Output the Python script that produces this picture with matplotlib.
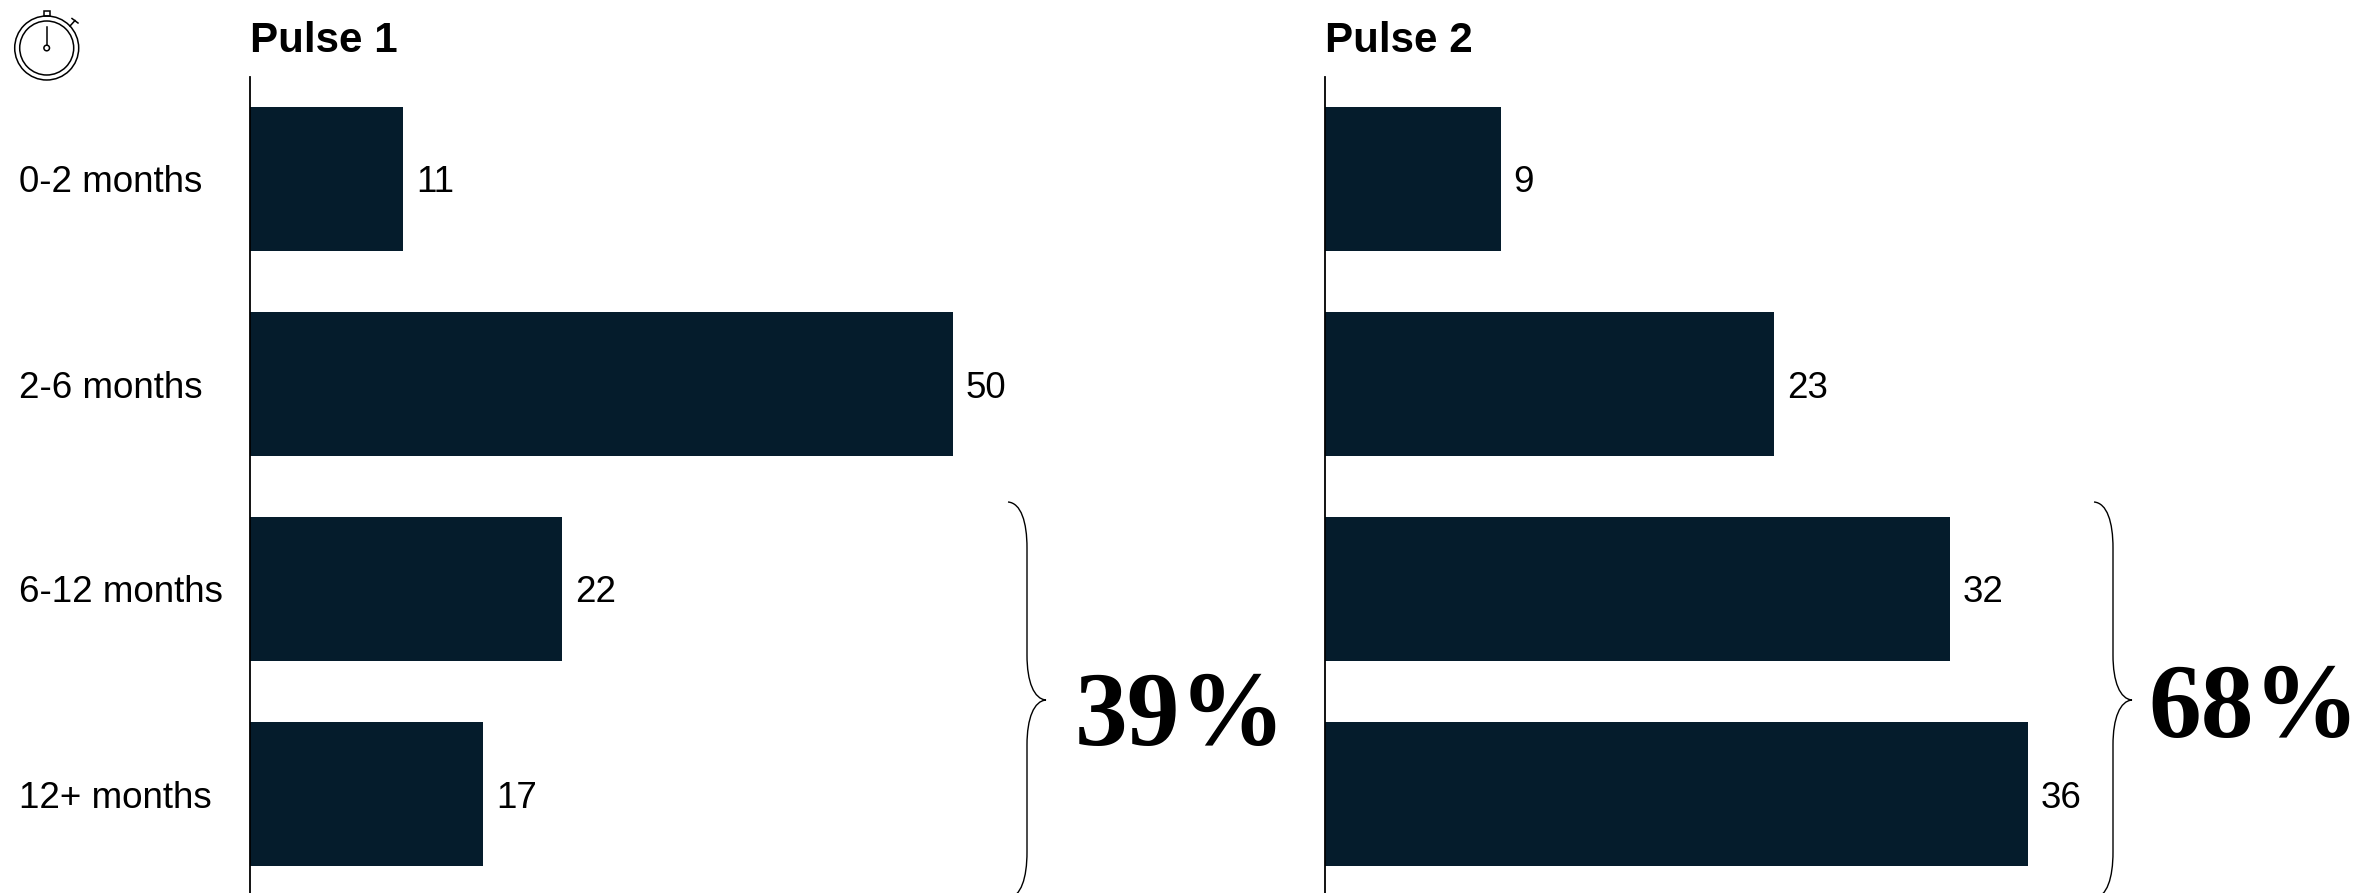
import matplotlib
matplotlib.use('Agg')
import matplotlib.pyplot as plt
from matplotlib.patches import Circle, PathPatch, Rectangle
from matplotlib.path import Path

plt.rcParams['font.family'] = ['Liberation Sans', 'DejaVu Sans']

categories = ['0-2 months', '2-6 months', '6-12 months', '12+ months']
pulse1 = [10.9, 50, 22.2, 16.6]
pulse2 = [9, 23, 32, 36]
titles = ['Pulse 1', 'Pulse 2']
totals = ['39%', '68%']

W, H = 2361, 893
NAVY = '#051c2c'

fig = plt.figure(figsize=(W / 100, H / 100), dpi=100, facecolor='white')


def add_panel(left, values, title, xmax):
    # 703 px is the longest bar in both panels
    ax = fig.add_axes([left / W, 0, 703 / W, (H - 77) / H])
    ax.barh(range(4), values, height=144 / 205, color=NAVY, zorder=2)
    ax.set_xlim(0, xmax)
    ax.set_ylim((893 - 179) / 205, (77 - 179) / 205)
    for s in ['top', 'right', 'bottom']:
        ax.spines[s].set_visible(False)
    ax.spines['left'].set_linewidth(1.3)
    ax.spines['left'].set_zorder(3)
    ax.set_xticks([])
    labels = ax.bar_label(ax.containers[0], fmt='%.0f', padding=9, fontsize=26.5, color='black')
    for lab in labels:
        lab.set_va('center_baseline')
    ax.set_title(title, loc='left', fontweight='bold', fontsize=30.3, pad=18)
    return ax


ax1 = add_panel(250, pulse1, titles[0], max(pulse1))
ax1.set_yticks(range(4), categories, fontsize=26.5)
ax1.tick_params(axis='y', length=0, pad=166)
for lab in ax1.get_yticklabels():
    lab.set_ha('left')

ax2 = add_panel(1325, pulse2, titles[1], max(pulse2))
ax2.set_yticks([])

# overlay in pixel coordinates for the braces, big totals and the icon
ov = fig.add_axes([0, 0, 1, 1], zorder=5)
ov.set_xlim(0, W)
ov.set_ylim(H, 0)
ov.axis('off')
ov.patch.set_alpha(0)


def brace(x0):
    verts = [(x0, 502), (x0 + 13, 503), (x0 + 19, 522), (x0 + 19, 548),
             (x0 + 19, 655),
             (x0 + 19, 682), (x0 + 26, 699), (x0 + 38, 700),
             (x0 + 26, 701), (x0 + 19, 718), (x0 + 19, 745),
             (x0 + 19, 852),
             (x0 + 19, 878), (x0 + 13, 897), (x0, 898)]
    codes = [Path.MOVETO, Path.CURVE4, Path.CURVE4, Path.CURVE4,
             Path.LINETO,
             Path.CURVE4, Path.CURVE4, Path.CURVE4,
             Path.CURVE4, Path.CURVE4, Path.CURVE4,
             Path.LINETO,
             Path.CURVE4, Path.CURVE4, Path.CURVE4]
    ov.add_patch(PathPatch(Path(verts, codes), fill=False, ec='black', lw=1.0))


brace(1008)
brace(2094)

ov.text(1075, 745, totals[0], family=['Liberation Serif', 'DejaVu Serif'],
        fontweight='bold', fontsize=76, ha='left', va='baseline')
ov.text(2148, 737, totals[1], family=['Liberation Serif', 'DejaVu Serif'],
        fontweight='bold', fontsize=76, ha='left', va='baseline')

# stopwatch icon
cx, cy = 46.7, 48
ov.add_patch(Circle((cx, cy), 32, fill=False, ec='black', lw=1.1))
ov.add_patch(Circle((cx, cy), 27, fill=False, ec='black', lw=1.1))
ov.add_patch(Circle((cx, cy), 2.8, fill=False, ec='black', lw=1.1))
ov.add_patch(Rectangle((43.5, 11), 6.5, 5, fill=False, ec='black', lw=1.1))
ov.plot([cx, cx], [27, 45], color='black', lw=1.1)
ov.plot([70, 75], [26, 20.5], color='black', lw=1.1)
ov.plot([72, 78], [18.5, 23], color='black', lw=1.1)

fig.savefig('out.png', dpi=100)
